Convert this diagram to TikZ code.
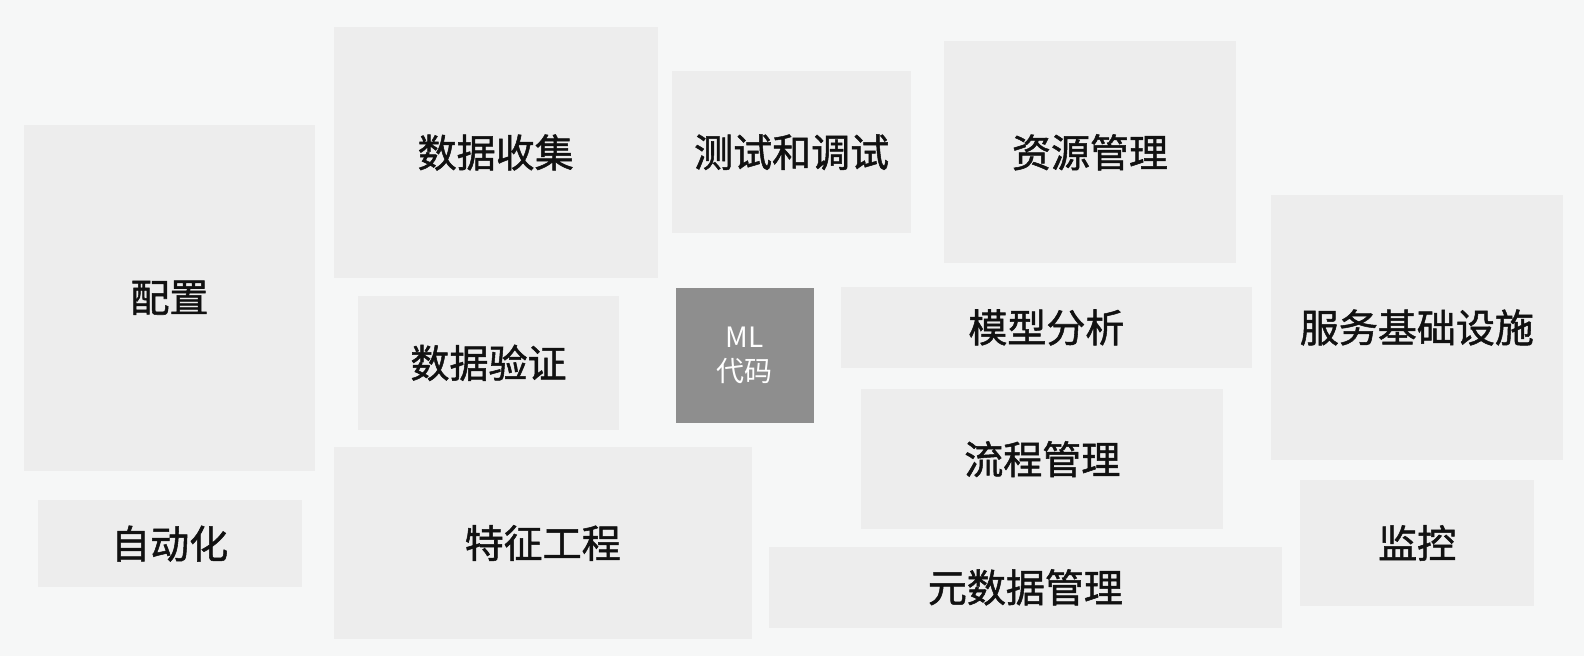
\documentclass[tikz,border=0pt]{standalone}
\usepackage{fontspec}
\setmainfont{Noto Sans CJK SC}[FakeBold=1.3]
\newfontfamily\mlfont{Noto Sans CJK SC}
\definecolor{bgcol}{HTML}{F6F7F7}
\definecolor{blkcol}{HTML}{EDEDED}
\definecolor{mlcol}{HTML}{8E8E8E}
\definecolor{txtcol}{HTML}{111111}
\tikzset{
  blk/.style={rectangle, fill=blkcol, inner sep=0pt, text=txtcol, font=\fontsize{39}{46}\selectfont},
  mlblk/.style={rectangle, fill=mlcol, inner sep=0pt, text=white, align=center, font=\mlfont\fontsize{28}{34}\selectfont}
}

\begin{document}
\begin{tikzpicture}[x=1pt,y=-1pt]
		%%%%% START %%%%%
		\fill[bgcol] (0,0) rectangle (1584,656);
		\useasboundingbox (0,0) rectangle (1584,656);
		
		% left column
		\node[blk, minimum width=291pt, minimum height=345.7pt] (peizhi) at (169.5,297.85) {配置};
		\node[blk, minimum width=264pt, minimum height=87.3pt] (zidong) at (169.7,543.65) {自动化};
		
		% data blocks
		\node[blk, minimum width=324pt, minimum height=250.4pt] (shouji) at (495.7,152.5) {数据收集};
		\node[blk, minimum width=261.6pt, minimum height=134.3pt] (yanzheng) at (488.5,362.85) {数据验证};
		\node[blk, minimum width=418pt, minimum height=192.6pt] (tezheng) at (542.7,543) {特征工程};
		
		% middle
		\node[blk, minimum width=238.4pt, minimum height=162.3pt] (ceshi) at (791.6,152.15) {测试和调试};
		\node[mlblk, minimum width=138.3pt, minimum height=135.6pt] (mlcode) at (744.85,355.5) {ML\\代码};
		
		\node[blk, minimum width=292pt, minimum height=222pt] (ziyuan) at (1090,152.3) {资源管理};
		\node[blk, minimum width=410.8pt, minimum height=81.6pt] (fenxi) at (1046.4,327.5) {模型分析};
		\node[blk, minimum width=361.8pt, minimum height=139.7pt] (liucheng) at (1042.3,459.15) {流程管理};
		\node[blk, minimum width=512.2pt, minimum height=80.7pt] (yuan) at (1025.4,587.35) {元数据管理};
		
		% right column
		\node[blk, minimum width=291.7pt, minimum height=265pt] (fuwu) at (1416.85,327.5) {服务基础设施};
		\node[blk, minimum width=234.3pt, minimum height=126pt] (jiankong) at (1417.15,543) {监控};
		%%%%% END %%%%%
\end{tikzpicture}
\end{document}
